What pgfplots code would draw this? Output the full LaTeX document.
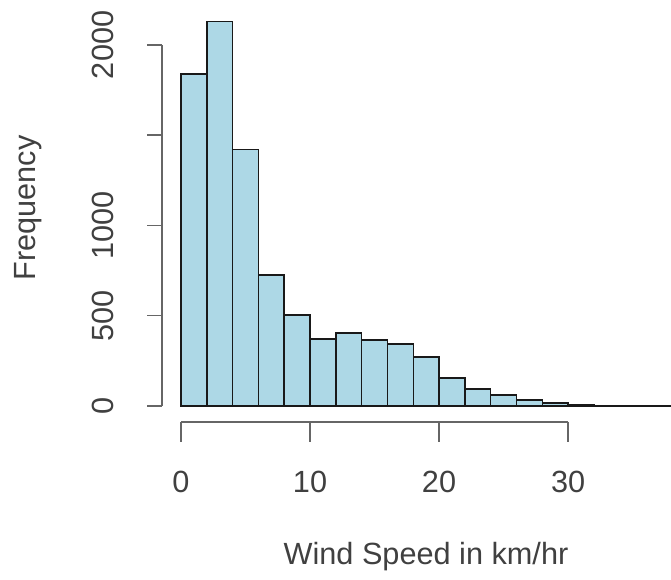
\documentclass[border=0pt]{standalone}
\usepackage{fontspec}
\setmainfont{Liberation Sans}
\usepackage{pgfplots}
\pgfplotsset{compat=1.18}
\definecolor{rlightblue}{HTML}{ADD8E6}
\definecolor{axgray}{HTML}{666666}

\begin{document}
\begin{tikzpicture}[lbl/.style={font=\fontsize{23}{27}\selectfont, text=black!75}]
\begin{axis}[
    name=ax,
    scale only axis,
    width=503.25pt, height=435pt,
    xmin=-14.03, xmax=37.98,
    ymin=-964, ymax=2249,
    axis lines=none,
    ticks=none,
  ]
  % histogram, bins of width 2 (cut at the right edge as in the reference)
  \addplot[ybar interval, fill=rlightblue, draw=black!90, line width=1.1pt]
    coordinates {
      (0,1840) (2,2130) (4,1420) (6,725) (8,505) (10,372) (12,404)
      (14,366) (16,343) (18,272) (20,155) (22,94) (24,61) (26,32)
      (28,16) (30,8) (32,4) (34,2) (36,1) (37.95,0)
    };

  % y axis (R style, detached)
  \draw[axgray, line width=1.1pt] (axis cs:-1.47,0) -- (axis cs:-1.47,2000);
  \pgfplotsinvokeforeach{0,500,1000,1500,2000}{
    \draw[axgray, line width=1.1pt] (axis cs:-1.47,#1) -- (axis cs:-2.64,#1);
  }
  \pgfplotsinvokeforeach{0,500,1000,2000}{
    \node[lbl, rotate=90] at (axis cs:-6.05,#1) {#1};
  }
  \node[lbl, rotate=90] at (axis cs:-11.86,1097) {Frequency};

  % x axis
  \draw[axgray, line width=1.1pt] (axis cs:0,-88.6) -- (axis cs:30,-88.6);
  \pgfplotsinvokeforeach{0,10,20,30}{
    \draw[axgray, line width=1.1pt] (axis cs:#1,-88.6) -- (axis cs:#1,-199.4);
    \node[lbl] at (axis cs:#1,-421) {#1};
  }
  \node[lbl] at (axis cs:18.99,-836) {Wind Speed in km/hr};
\end{axis}
\pgfresetboundingbox
\path (0,0) rectangle (503.25pt,435pt);
\end{tikzpicture}
\end{document}
